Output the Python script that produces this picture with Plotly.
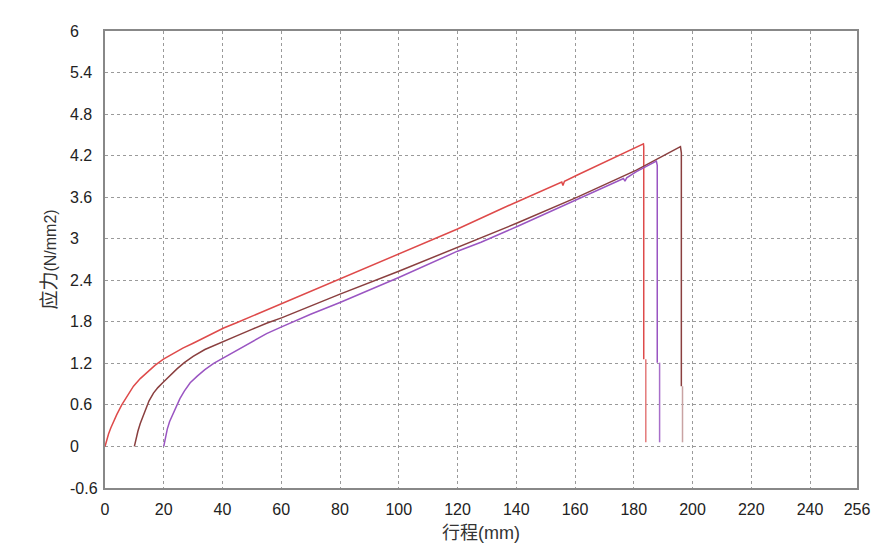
import plotly.graph_objects as go

# stroke (mm) / stress (N/mm2)
red_x = [0, 0.5, 1.2, 2, 2.8, 4, 5.7, 7.5, 9.7, 12, 14.5, 17, 19.9, 23, 26.5, 30, 35,
         40.4, 45, 50, 55, 60.3, 80, 100, 120, 134.8, 140.5, 155.5, 155.9, 156.4,
         160.8, 170, 180.9, 183.3, 183.4, 183.4]
red_y = [0, 0.08, 0.18, 0.27, 0.35, 0.46, 0.6, 0.73, 0.87, 0.98, 1.08, 1.17, 1.26, 1.34,
         1.42, 1.49, 1.6, 1.71, 1.79, 1.88, 1.97, 2.06, 2.41, 2.77, 3.14, 3.43, 3.54, 3.82,
         3.77, 3.83, 3.92, 4.1, 4.32, 4.37, 4.33, 1.26]
red_tail_x = [184.1, 184.1]
red_tail_y = [1.26, 0.06]

brown_x = [10, 10.5, 11.2, 12, 13.7, 15, 16.5, 18, 19.9, 22, 24.5, 27, 30, 34, 40.4, 45,
           50, 55, 60.3, 80, 100, 120, 128, 134.8, 140.5, 160.8, 180.9, 195.9, 196.2, 196.2]
brown_y = [0, 0.1, 0.22, 0.33, 0.53, 0.66, 0.77, 0.85, 0.93, 1.02, 1.12, 1.21, 1.3, 1.4,
           1.51, 1.6, 1.69, 1.78, 1.86, 2.2, 2.53, 2.88, 3.02, 3.13, 3.23, 3.6, 3.99, 4.33,
           4.24, 0.87]
brown_tail_x = [196.6, 196.6]
brown_tail_y = [0.87, 0.06]

purple_x = [20, 20.5, 21.2, 22, 22.8, 24, 25.5, 27, 29, 31.5, 34, 37, 40.4, 45, 50, 55,
            60.3, 70, 80, 100, 120, 128, 140.5, 160.8, 176.5, 177, 177.6, 180.9, 187.7,
            188.0, 188.0]
purple_y = [0, 0.12, 0.25, 0.36, 0.44, 0.56, 0.69, 0.8, 0.92, 1.02, 1.11, 1.2, 1.28, 1.39,
            1.51, 1.63, 1.73, 1.91, 2.08, 2.44, 2.82, 2.95, 3.18, 3.57, 3.87, 3.83, 3.88,
            3.97, 4.12, 4.06, 1.21]
purple_tail_x = [188.8, 188.8]
purple_tail_y = [1.21, 0.06]

x_ticks = [0, 20, 40, 60, 80, 100, 120, 140, 160, 180, 200, 220, 240, 256]
y_ticks = [-0.6, 0, 0.6, 1.2, 1.8, 2.4, 3, 3.6, 4.2, 4.8, 5.4, 6]
y_labels = ["-0.6", "0", "0.6", "1.2", "1.8", "2.4", "3", "3.6", "4.2", "4.8", "5.4", "6"]

FONT = "Liberation Sans, Arial, Noto Sans CJK SC"

fig = go.Figure()
series = [
    (red_x, red_y, "#de4a4a"), (red_tail_x, red_tail_y, "#e47a7a"),
    (brown_x, brown_y, "#8a3f3f"), (brown_tail_x, brown_tail_y, "#c9a3a3"),
    (purple_x, purple_y, "#9a55c2"), (purple_tail_x, purple_tail_y, "#a86fca"),
]
for xs, ys, col in series:
    fig.add_trace(go.Scatter(x=xs, y=ys, mode="lines",
                             line=dict(color=col, width=1.5), showlegend=False))

# y tick labels are left aligned in the original, so draw them as annotations
for v, t in zip(y_ticks, y_labels):
    fig.add_annotation(x=-0.049, xref="paper", y=v, yref="y", text=t,
                       showarrow=False, xanchor="left", yanchor="middle",
                       font=dict(family=FONT, size=16, color="#222"))

fig.update_layout(
    width=890, height=550,
    margin=dict(l=97, r=41, t=23, b=70),
    paper_bgcolor="white", plot_bgcolor="white",
    font=dict(family=FONT, size=16, color="#222"),
    xaxis=dict(range=[0, 256], tickvals=x_ticks, ticktext=[str(v) for v in x_ticks],
               showgrid=True, gridcolor="#9a9a9a", griddash="dot", gridwidth=1,
               showline=True, mirror=True, linecolor="#888", linewidth=2,
               zeroline=False, ticks="", tickfont=dict(size=16), ticklabelstandoff=6,
               title=dict(text="行程(mm)", font=dict(size=18, color="#333"), standoff=9)),
    yaxis=dict(range=[-0.6, 6], tickvals=y_ticks, showticklabels=False,
               showgrid=True, gridcolor="#9a9a9a", griddash="dot", gridwidth=1,
               showline=True, mirror=True, linecolor="#888", linewidth=2,
               zeroline=False, ticks="",
               title=dict(text="<span style='font-size:19px'>应力</span>(N/mm2)",
                          font=dict(size=16, color="#333"), standoff=42)),
)

fig.write_html("out.html")
